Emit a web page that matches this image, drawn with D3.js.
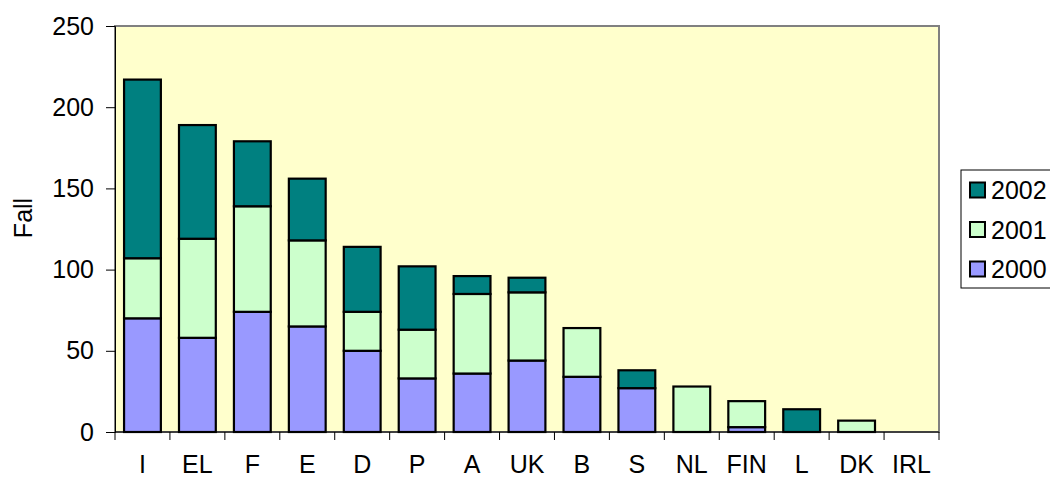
<!DOCTYPE html>
<html>
<head>
<meta charset="utf-8">
<script src="https://cdn.jsdelivr.net/npm/d3@7/dist/d3.min.js"></script>
<style>
  html, body { margin: 0; padding: 0; background: #ffffff; }
  svg { display: block; }
  text { font-family: "Liberation Sans", Arial, sans-serif; fill: #000; }
</style>
</head>
<body>
<svg id="chart" width="1050" height="479"></svg>
<script>
const categories = ["I", "EL", "F", "E", "D", "P", "A", "UK", "B", "S", "NL", "FIN", "L", "DK", "IRL"];
const values2000 = [70, 58, 74, 65, 50, 33, 36, 44, 34, 27, 0, 3, 0, 0, 0];
const values2001 = [37, 61, 65, 53, 24, 30, 49, 42, 30, 0, 28, 16, 0, 7, 0];
const values2002 = [110, 70, 40, 38, 40, 39, 11, 9, 0, 11, 0, 0, 14, 0, 0];
const seriesNames = ["2000", "2001", "2002"];
const seriesColors = ["#9999FF", "#CCFFCC", "#008080"];
const yTicks = [0, 50, 100, 150, 200, 250];
const yLabel = "Fall";

const svg = d3.select("#chart");
const plot = { left: 115, right: 939, top: 26, bottom: 432 };
const fontSize = 25;

const x = d3.scaleBand().domain(categories).range([plot.left, plot.right])
  .paddingInner(0.33).paddingOuter(0.165);
const y = d3.scaleLinear().domain([0, 250]).range([plot.bottom, plot.top]);

// plot background
svg.append("rect")
  .attr("x", plot.left).attr("y", plot.top)
  .attr("width", plot.right - plot.left).attr("height", plot.bottom - plot.top)
  .attr("fill", "#FFFFCC").attr("stroke", "#808080").attr("stroke-width", 2);

// stacked data
const table = categories.map((c, i) => ({ cat: c, "2000": values2000[i], "2001": values2001[i], "2002": values2002[i] }));
const stack = d3.stack().keys(seriesNames)(table);

stack.forEach((layer, li) => {
  svg.append("g").selectAll("rect")
    .data(layer.filter(d => d[1] - d[0] > 0))
    .join("rect")
    .attr("x", d => x(d.data.cat))
    .attr("width", x.bandwidth())
    .attr("y", d => y(d[1]))
    .attr("height", d => y(d[0]) - y(d[1]))
    .attr("fill", seriesColors[li])
    .attr("stroke", "#000")
    .attr("stroke-width", 2.2);
});

// y axis
const yAxis = d3.axisLeft(y).tickValues(yTicks).tickSize(9).tickPadding(12);
const gy = svg.append("g").attr("transform", `translate(${plot.left},0)`).call(yAxis);
gy.select(".domain").attr("stroke", "#000").attr("stroke-width", 1);
gy.selectAll(".tick line").attr("stroke", "#000");
gy.selectAll(".tick text").attr("font-size", fontSize).attr("font-family", "Liberation Sans, Arial, sans-serif");

// x axis with ticks at band boundaries
const xAxisG = svg.append("g");
xAxisG.append("line").attr("x1", plot.left).attr("x2", plot.right)
  .attr("y1", plot.bottom).attr("y2", plot.bottom).attr("stroke", "#000");
const boundaries = categories.map(c => x(c) - x.step() * x.paddingInner() / 2).concat([plot.right]);
xAxisG.selectAll("line.tk").data(boundaries).join("line").attr("class", "tk")
  .attr("x1", d => d).attr("x2", d => d)
  .attr("y1", plot.bottom).attr("y2", plot.bottom + 8).attr("stroke", "#000");
xAxisG.selectAll("text").data(categories).join("text")
  .attr("x", d => x(d) + x.bandwidth() / 2)
  .attr("y", 473)
  .attr("text-anchor", "middle")
  .attr("font-size", fontSize)
  .text(d => d);

// y label
svg.append("text")
  .attr("transform", "translate(32,218) rotate(-90)")
  .attr("text-anchor", "middle")
  .attr("font-size", fontSize)
  .text(yLabel);

// legend
const legend = svg.append("g");
legend.append("rect").attr("x", 961).attr("y", 170).attr("width", 120).attr("height", 118)
  .attr("fill", "#fff").attr("stroke", "#000").attr("stroke-width", 1);
const legendOrder = [2, 1, 0];
legendOrder.forEach((si, k) => {
  const cy = 190 + k * 39.5;
  legend.append("rect").attr("x", 970).attr("y", cy - 7.5).attr("width", 15).attr("height", 15)
    .attr("fill", seriesColors[si]).attr("stroke", "#000").attr("stroke-width", 2);
  legend.append("text").attr("x", 991).attr("y", cy + 9)
    .attr("font-size", fontSize).text(seriesNames[si]);
});
</script>
</body>
</html>
